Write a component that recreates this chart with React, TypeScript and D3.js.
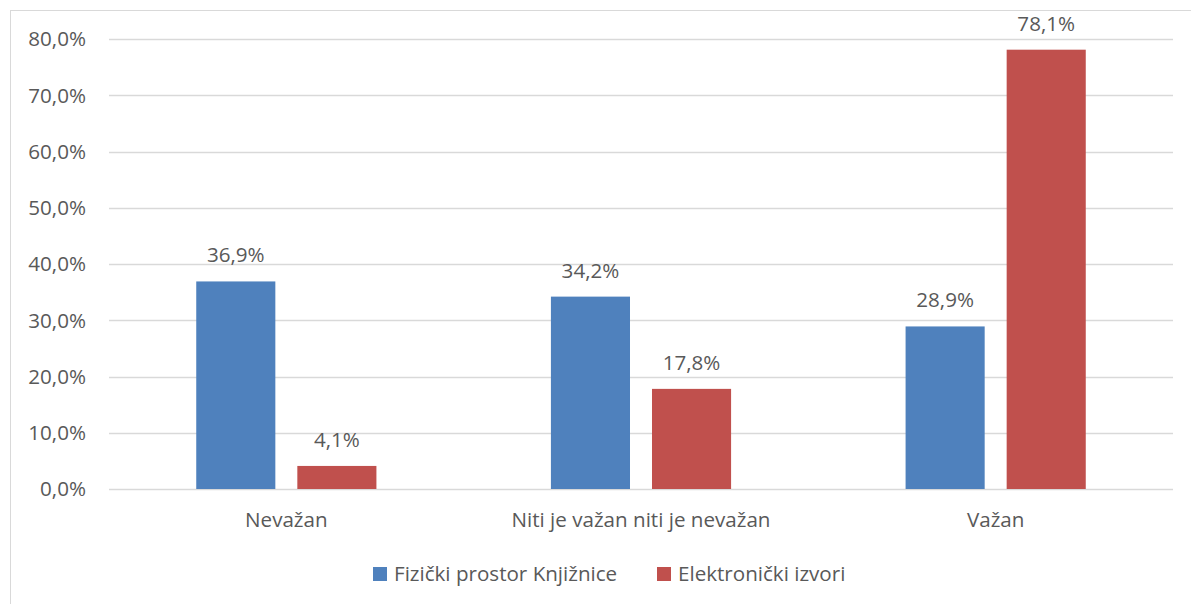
import React from "react";
import * as d3 from "d3";

const categories = ["Nevažan", "Niti je važan niti je nevažan", "Važan"];
const seriesNames = ["Fizički prostor Knjižnice", "Elektronički izvori"];
const fizicki = [36.9, 34.2, 28.9];
const elektronicki = [4.1, 17.8, 78.1];
const yTicks = [0, 10, 20, 30, 40, 50, 60, 70, 80];
const colors = ["#4f81bd", "#c0504d"];

const W = 1191;
const H = 604;
const FONT = "'Open Sans', sans-serif";
const TEXT = "#595959";
const FS = 20.6;

const fmt = (v: number) => v.toFixed(1).replace(".", ",") + "%";

export default function App() {
  const x0 = d3.scaleBand<string>().domain(categories).range([109, 1173]).paddingInner(0).paddingOuter(0);
  const y = d3.scaleLinear().domain([0, 80]).range([489, 39]);
  const bw = x0.bandwidth();
  const barW = bw * 0.223;
  const gap = bw * 0.062;
  const series = [fizicki, elektronicki];

  return (
    <svg width={W} height={H} style={{ position: "absolute", left: 0, top: 0, background: "#fff" }} fontFamily={FONT}>
      <rect x={10.5} y={10.5} width={W + 10} height={H + 10} fill="#fff" stroke="#d9d9d9" strokeWidth={1} />
      {yTicks.map((t) => (
        <g key={t}>
          <line x1={109} x2={1173} y1={Math.round(y(t)) + 0.5} y2={Math.round(y(t)) + 0.5} stroke="#d9d9d9" strokeWidth={1.3} />
          <text x={86} y={y(t)} dy="0.36em" textAnchor="end" fontSize={FS} fill={TEXT}>
            {fmt(t)}
          </text>
        </g>
      ))}
      {categories.map((c, i) => {
        const cx = (x0(c) as number) + bw / 2;
        return (
          <g key={c}>
            {series.map((s, k) => {
              const bx = k === 0 ? cx - gap / 2 - barW : cx + gap / 2;
              const v = s[i];
              return (
                <g key={k}>
                  <rect x={bx} y={y(v)} width={barW} height={y(0) - y(v)} fill={colors[k]} />
                  <text x={bx + barW / 2} y={y(v) - 19} textAnchor="middle" fontSize={FS} fill={TEXT}>
                    {fmt(v)}
                  </text>
                </g>
              );
            })}
            <text x={cx} y={527} textAnchor="middle" fontSize={FS} fill={TEXT}>
              {c}
            </text>
          </g>
        );
      })}
      {seriesNames.map((n, k) => {
        const lx = k === 0 ? 373 : 657;
        return (
          <g key={n}>
            <rect x={lx} y={567} width={14} height={14} fill={colors[k]} />
            <text x={lx + 21} y={581} fontSize={FS} fill={TEXT}>
              {n}
            </text>
          </g>
        );
      })}
    </svg>
  );
}
